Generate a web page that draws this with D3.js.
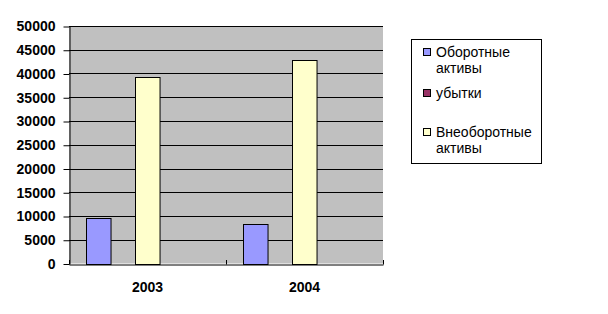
<!DOCTYPE html>
<html><head><meta charset="utf-8">
<script src="https://cdn.jsdelivr.net/npm/d3@7"></script>
<style>body{margin:0;background:#fff}svg{display:block}</style>
</head><body>
<script>
const categories = ["2003", "2004"];
const seriesNames = ["Оборотные активы", "убытки", "Внеоборотные активы"];
const seriesColors = ["#9999FF", "#993366", "#FFFFCC"];
const oborotnye = [9500, 8400];
const ubytki = [0, 0];
const vneoborotnye = [39200, 42800];
const yTicks = [0, 5000, 10000, 15000, 20000, 25000, 30000, 35000, 40000, 45000, 50000];
const seriesValues = [oborotnye, ubytki, vneoborotnye];

const W = 608, H = 314;
const m = {left: 69, right: 383, top: 26, bottom: 263.5};
const svg = d3.select("body").append("svg").attr("width", W).attr("height", H);

const x = d3.scaleBand().domain(categories).range([m.left, m.right]);
const slot = d3.scaleBand().domain(d3.range(5)).range([0, x.bandwidth()]).paddingOuter(0.7);
const y = d3.scaleLinear().domain([0, 50000]).range([m.bottom, m.top]);

svg.append("rect").attr("x", m.left).attr("y", m.top).attr("width", m.right - m.left)
  .attr("height", m.bottom - m.top).attr("fill", "#C0C0C0");

svg.append("g").selectAll("line").data(yTicks.filter(d => d > 0)).join("line")
  .attr("x1", m.left).attr("x2", m.right)
  .attr("y1", d => Math.round(y(d)) + 0.5).attr("y2", d => Math.round(y(d)) + 0.5)
  .attr("stroke", "#000").attr("stroke-width", 1);

const g = svg.append("g");
seriesValues.forEach((vals, si) => {
  g.selectAll(null).data(vals).join("rect")
    .attr("x", (d, i) => Math.round(x(categories[i]) + slot(si)) + 0.5)
    .attr("y", d => Math.round(y(d)) + 0.5)
    .attr("width", slot.bandwidth())
    .attr("height", d => Math.max(0, Math.round(y(0)) - Math.round(y(d))))
    .attr("fill", seriesColors[si]).attr("stroke", "#000").attr("stroke-width", 1)
    .style("display", d => d > 0 ? null : "none");
});

const yAxis = d3.axisLeft(y).tickValues(yTicks).tickSize(6).tickSizeOuter(0).tickFormat(d3.format("d"));
const ya = svg.append("g").attr("transform", `translate(${m.left + 0.5},0.5)`).call(yAxis);
ya.selectAll("text").attr("font-family", "Liberation Sans, Arial, sans-serif")
  .attr("font-size", 14).attr("font-weight", "bold").attr("fill", "#000").attr("x", -14);
ya.selectAll("line").attr("stroke", "#000");
ya.select(".domain").attr("stroke", "#000");

const xAxis = d3.axisBottom(x).tickSize(0).tickSizeOuter(0);
const xa = svg.append("g").attr("transform", `translate(0,${Math.round(m.bottom) + 0.5})`).call(xAxis);
xa.select(".domain").attr("stroke", "#000");
xa.selectAll("text").attr("font-family", "Liberation Sans, Arial, sans-serif")
  .attr("font-size", 14).attr("font-weight", "bold").attr("fill", "#000").attr("dy", "1.75em");
// category separator ticks pointing up
svg.append("g").selectAll("line").data([m.left, x(categories[1]), m.right]).join("line")
  .attr("x1", d => Math.round(d) + 0.5).attr("x2", d => Math.round(d) + 0.5)
  .attr("y1", Math.round(m.bottom) + 0.5).attr("y2", Math.round(m.bottom) - 4)
  .attr("stroke", "#000");

// legend
const lg = svg.append("g");
lg.append("rect").attr("x", 411.5).attr("y", 39.5).attr("width", 130).attr("height", 124)
  .attr("fill", "#fff").attr("stroke", "#000");
const legendItems = [
  {lines: ["Оборотные", "активы"], y: 52},
  {lines: ["убытки"], y: 93},
  {lines: ["Внеоборотные", "активы"], y: 132}
];
legendItems.forEach((it, i) => {
  lg.append("rect").attr("x", 423.5).attr("y", it.y - 3.5).attr("width", 7).attr("height", 7)
    .attr("fill", seriesColors[i]).attr("stroke", "#000");
  const t = lg.append("text").attr("x", 436).attr("y", it.y + 5)
    .attr("font-family", "Liberation Sans, Arial, sans-serif").attr("font-size", 14).attr("fill", "#000");
  it.lines.forEach((ln, k) => t.append("tspan").attr("x", 436).attr("dy", k ? 16 : 0).text(ln));
});
</script>
</body></html>
